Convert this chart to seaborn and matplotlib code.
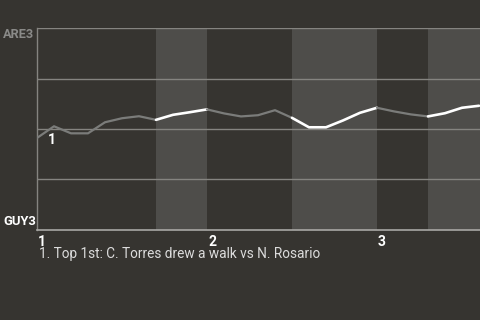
import matplotlib
matplotlib.use("Agg")
import matplotlib.pyplot as plt
import seaborn as sns
import pandas as pd

# ---- data ----
plays = list(range(27))
are3_win_pct = [45.5, 51.3, 47.8, 47.8, 53.3, 55.3, 56.3, 54.5, 57.0, 58.3,
                59.7, 57.7, 56.2, 56.8, 59.3, 55.5, 50.8, 50.8, 54.2, 58.0,
                60.5, 58.7, 57.2, 56.2, 57.8, 60.5, 61.5]
# half-inning boundaries (play index): (start, end, is_bottom)
half_innings = [(0, 7, False), (7, 10, True), (10, 15, False), (15, 20, True),
                (20, 23, False), (23, 26.06, True)]
inning_labels = ["1", "2", "3"]
inning_starts = [0, 10, 20]
team_top = "ARE3"
team_bottom = "GUY3"
caption = "1. Top 1st: C. Torres drew a walk vs N. Rosario"
marker_label = "1"

BG = "#363430"
SHADE = "#4e4d4a"
GRID = "#858480"
GRAY_LINE = "#7b7c7a"

sns.set_theme(style="dark")
plt.rcParams['font.family'] = ['Roboto', 'DejaVu Sans']

fig = plt.figure(figsize=(4.8, 3.2), dpi=100, facecolor=BG)
ax = fig.add_axes([37/480, 1-229.5/320, 1-37/480, (229.5-28.3)/320])
ax.set_facecolor(BG)

df = pd.DataFrame({"play": plays, "pct": are3_win_pct})

xmax = 26.06
for s, e, bottom in half_innings:
    if bottom:
        ax.axvspan(s, e, color=SHADE, lw=0, zorder=0)
    seg = df[(df.play >= s) & (df.play <= e)]
    sns.lineplot(data=seg, x="play", y="pct", ax=ax,
                 color="white" if bottom else GRAY_LINE,
                 lw=1.9 if bottom else 1.6,
                 zorder=3, legend=False)

for yv in [25, 50, 75, 100]:
    ax.axhline(yv, color=GRID, lw=1, zorder=1)

ax.set_xlim(0, xmax)
ax.set_ylim(0, 100)
ax.set_xticks([]); ax.set_yticks([])
ax.set_xlabel(""); ax.set_ylabel("")
for sp in ["top", "right"]:
    ax.spines[sp].set_visible(False)
ax.spines["left"].set_color(GRID)
ax.spines["left"].set_linewidth(1)
ax.spines["bottom"].set_color("#a9a8a5")
ax.spines["bottom"].set_linewidth(1.2)
ax.spines["left"].set_visible(True)
ax.spines["bottom"].set_visible(True)

fig.text(3/480, 1-35/320, team_top, color="#8a8a88", fontsize=9.2,
         fontweight="bold", ha="left", va="center")
fig.text(3/480, 1-221.5/320, team_bottom, color="white", fontsize=9.4,
         fontweight="bold", ha="left", va="center")

ax.text(plays[0] + 0.65, are3_win_pct[0] - 1, marker_label, color="white",
        fontsize=10, fontweight="bold", ha="left", va="center", zorder=4)

for lab, st in zip(inning_labels, inning_starts):
    ax.text(st + 0.06, -2.5, lab, color="white", fontsize=10,
            fontweight="bold", ha="left", va="top", clip_on=False)

fig.text(39/480, 1-254/320, caption, color="#dcdcdc", fontsize=9.8,
         ha="left", va="center")

fig.savefig("out.png", dpi=100, facecolor=BG)
